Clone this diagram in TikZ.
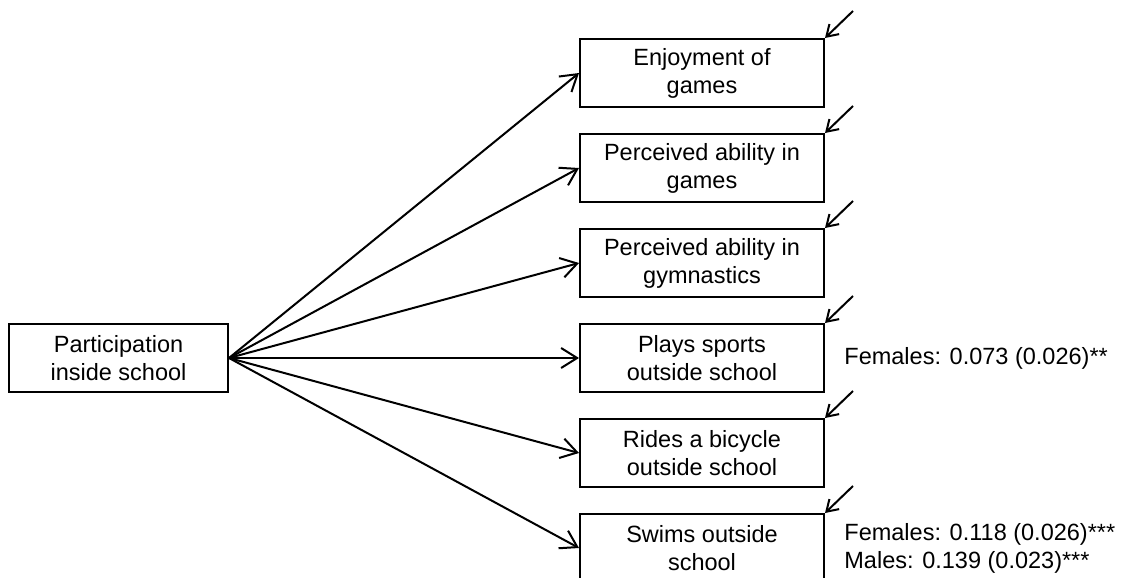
\documentclass[tikz,border=0pt]{standalone}
\usepackage{fontspec}
\setmainfont{Liberation Sans}
\usetikzlibrary{arrows.meta}
\begin{document}
\begin{tikzpicture}[x=0.5pt,y=-0.5pt,
  every node/.style={font=\fontsize{11.75}{14}\selectfont},
  var/.style={draw,line width=1pt,minimum width=122pt,minimum height=34pt,
    inner sep=0pt,align=center},
  link/.style={line width=1pt,-{Straight Barb[length=8pt,width=10pt,line width=1pt]}},
  err/.style={line width=1pt,-{Straight Barb[length=5.5pt,width=7pt,line width=1pt]}},
  est/.style={anchor=west,inner sep=0pt,align=left}]
\clip (0,0) rectangle (1124,578);
% exogenous variable
\node[var,minimum width=109.5pt] (src) at (118.5,358) {Participation\\inside school};
% outcomes
\node[var] (o1) at (702,73)  {Enjoyment of\\games};
\node[var] (o2) at (702,168) {Perceived ability in\\games};
\node[var] (o3) at (702,263) {Perceived ability in\\gymnastics};
\node[var] (o4) at (702,358) {Plays sports\\outside school};
\node[var] (o5) at (702,453) {Rides a bicycle\\outside school};
\node[var] (o6) at (702,548) {Swims outside\\school};
% paths and error terms
\foreach \n in {o1,o2,o3,o4,o5,o6}{
  \draw[link] (src.east) -- (\n.west);
  \coordinate (e\n) at ([shift={(28,-27)}]\n.north east);
  \draw[err] (e\n) -- (\n.north east);
}
% significant estimates
\node[est] (l4) at (844,358) {Females: 0.073 (0.026)**};
\node[est] (l6) at (844,548) {Females: 0.118 (0.026)***\\Males: 0.139 (0.023)***};
\end{tikzpicture}
\end{document}
